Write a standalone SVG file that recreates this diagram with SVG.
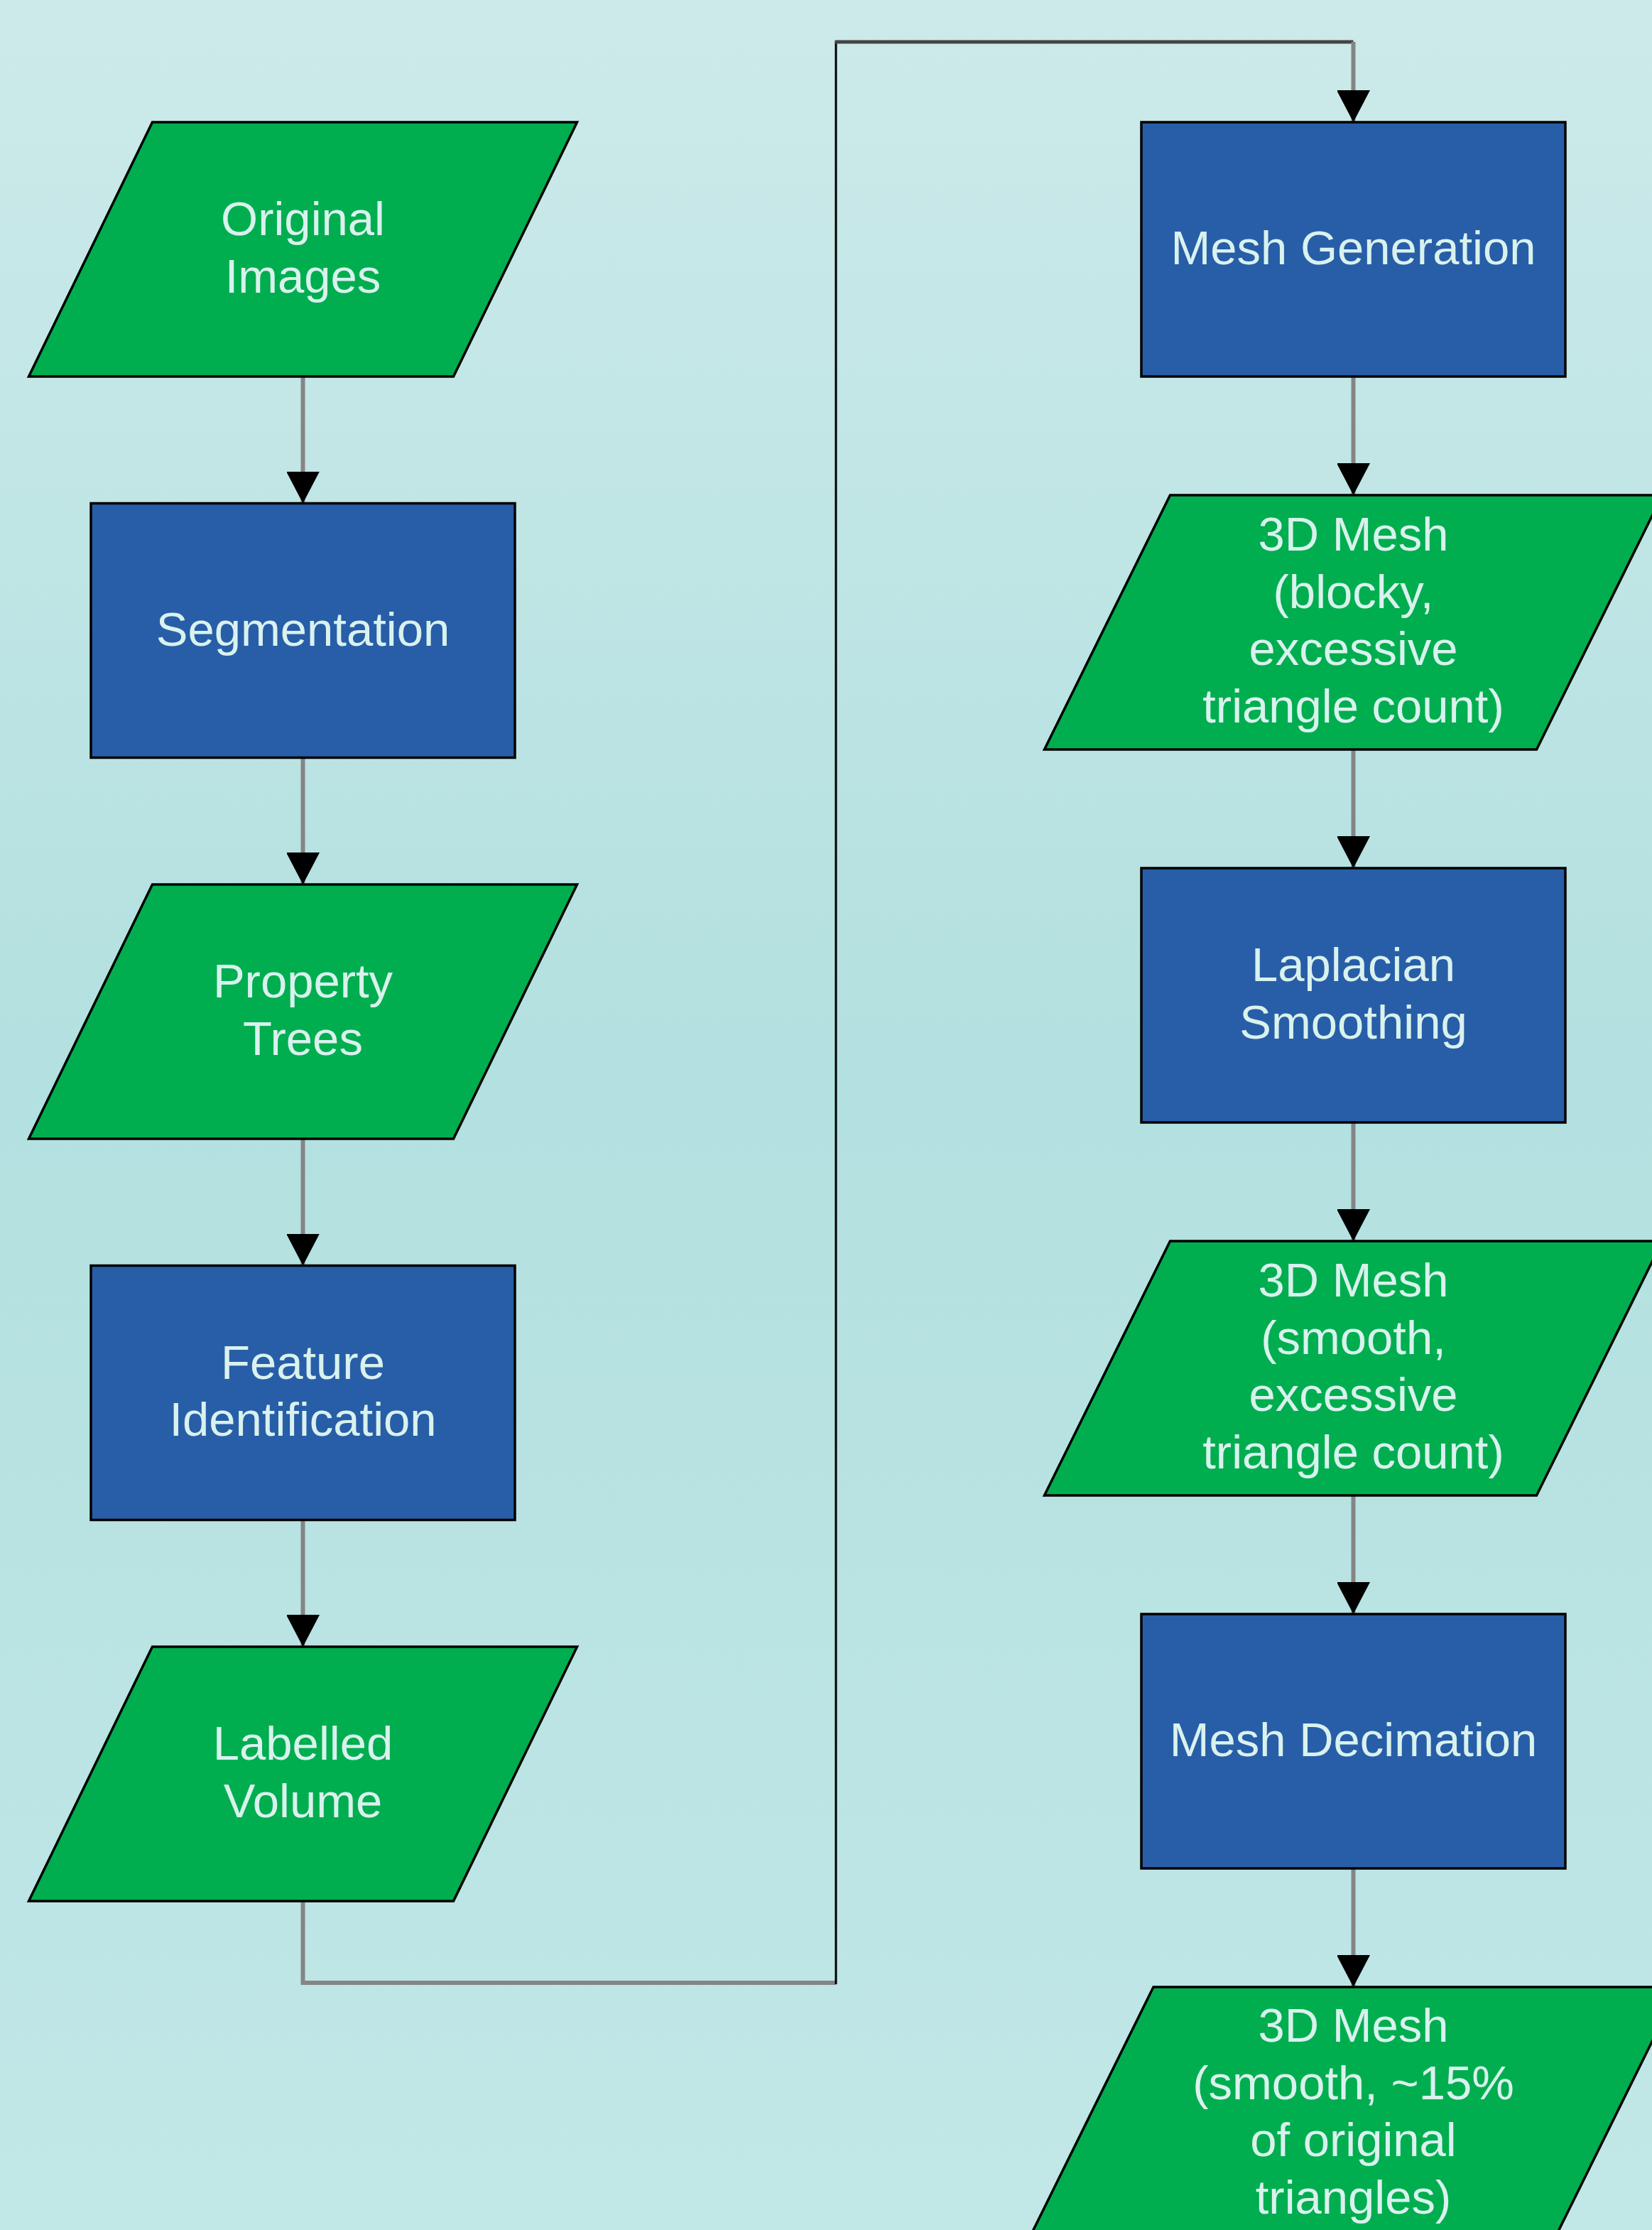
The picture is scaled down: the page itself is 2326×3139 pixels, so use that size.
<svg xmlns="http://www.w3.org/2000/svg" width="2326" height="3139" viewBox="0 0 2326 3139">
<defs>
<linearGradient id="bg" x1="0" y1="0" x2="0" y2="1">
<stop offset="0" stop-color="#cdeaea"/>
<stop offset="0.48" stop-color="#b3e0e0"/>
<stop offset="1" stop-color="#c2e7e7"/>
</linearGradient>
<marker id="arr" markerUnits="userSpaceOnUse" markerWidth="48" markerHeight="46" refX="45" refY="23.5" orient="auto">
<path d="M0,0 L45,23.5 L0,47 Z" fill="#000"/>
</marker>
</defs>
<style>
.data{fill:#00ae4f;stroke:#000;stroke-width:3.5}
.proc{fill:#285ea8;stroke:#000;stroke-width:3.5}
.lbl{font-family:"Liberation Sans",Arial,sans-serif;font-size:67px;fill:#d9f2ee;text-anchor:middle}
.con{fill:none;stroke:#858585;stroke-width:6}
</style>
<rect x="0" y="0" width="2326" height="3139" fill="url(#bg)"/>

<g id="connectors">
<line class="con" x1="426.5" y1="530" x2="426.5" y2="708.5" marker-end="url(#arr)"/>
<line class="con" x1="426.5" y1="1067" x2="426.5" y2="1245" marker-end="url(#arr)"/>
<line class="con" x1="426.5" y1="1603" x2="426.5" y2="1781.5" marker-end="url(#arr)"/>
<line class="con" x1="426.5" y1="2140" x2="426.5" y2="2318" marker-end="url(#arr)"/>
<polyline class="con" points="426.5,2676 426.5,2791 1177,2791"/>
<line x1="1177" y1="2793" x2="1177" y2="59" stroke="#000" stroke-width="3"/>
<line x1="1175.5" y1="59" x2="1905.5" y2="59" stroke="#444" stroke-width="5"/>
<line class="con" x1="1905.5" y1="59" x2="1905.5" y2="172" marker-end="url(#arr)"/>
<line class="con" x1="1905.5" y1="530" x2="1905.5" y2="697" marker-end="url(#arr)"/>
<line class="con" x1="1905.5" y1="1055" x2="1905.5" y2="1222" marker-end="url(#arr)"/>
<line class="con" x1="1905.5" y1="1580" x2="1905.5" y2="1747" marker-end="url(#arr)"/>
<line class="con" x1="1905.5" y1="2105" x2="1905.5" y2="2272" marker-end="url(#arr)"/>
<line class="con" x1="1905.5" y1="2630" x2="1905.5" y2="2797" marker-end="url(#arr)"/>
</g>

<g id="n1">
<polygon class="data" points="214.5,172 812.5,172 638.5,530 40.5,530"/>
<text class="lbl" x="426.5" y="331">Original</text>
<text class="lbl" x="426.5" y="411.5">Images</text>
</g>
<g id="n2">
<rect class="proc" x="128" y="708.5" width="597" height="358"/>
<text class="lbl" x="426.5" y="908.5">Segmentation</text>
</g>
<g id="n3">
<polygon class="data" points="214.5,1245 812.5,1245 638.5,1603 40.5,1603"/>
<text class="lbl" x="426.5" y="1404">Property</text>
<text class="lbl" x="426.5" y="1484.5">Trees</text>
</g>
<g id="n4">
<rect class="proc" x="128" y="1781.5" width="597" height="358"/>
<text class="lbl" x="426.5" y="1940.5">Feature</text>
<text class="lbl" x="426.5" y="2021">Identification</text>
</g>
<g id="n5">
<polygon class="data" points="214.5,2318 812.5,2318 638.5,2676 40.5,2676"/>
<text class="lbl" x="426.5" y="2477">Labelled</text>
<text class="lbl" x="426.5" y="2557.5">Volume</text>
</g>

<g id="n6">
<rect class="proc" x="1607" y="172" width="597" height="358"/>
<text class="lbl" x="1905.5" y="371.5">Mesh Generation</text>
</g>
<g id="n7">
<polygon class="data" points="1647.5,697 2340.5,697 2163.5,1055 1470.5,1055"/>
<text class="lbl" x="1905.5" y="775">3D Mesh</text>
<text class="lbl" x="1905.5" y="855.5">(blocky,</text>
<text class="lbl" x="1905.5" y="936">excessive</text>
<text class="lbl" x="1905.5" y="1016.5">triangle count)</text>
</g>
<g id="n8">
<rect class="proc" x="1607" y="1222" width="597" height="358"/>
<text class="lbl" x="1905.5" y="1381">Laplacian</text>
<text class="lbl" x="1905.5" y="1461.5">Smoothing</text>
</g>
<g id="n9">
<polygon class="data" points="1647.5,1747 2340.5,1747 2163.5,2105 1470.5,2105"/>
<text class="lbl" x="1905.5" y="1825">3D Mesh</text>
<text class="lbl" x="1905.5" y="1905.5">(smooth,</text>
<text class="lbl" x="1905.5" y="1986">excessive</text>
<text class="lbl" x="1905.5" y="2066.5">triangle count)</text>
</g>
<g id="n10">
<rect class="proc" x="1607" y="2272" width="597" height="358"/>
<text class="lbl" x="1905.5" y="2471.5">Mesh Decimation</text>
</g>
<g id="n11">
<polygon class="data" points="1624,2797 2364,2797 2187,3155 1447,3155"/>
<text class="lbl" x="1905.5" y="2874">3D Mesh</text>
<text class="lbl" x="1905.5" y="2954.5">(smooth, ~15%</text>
<text class="lbl" x="1905.5" y="3035">of original</text>
<text class="lbl" x="1905.5" y="3115.5">triangles)</text>
</g>
</svg>
